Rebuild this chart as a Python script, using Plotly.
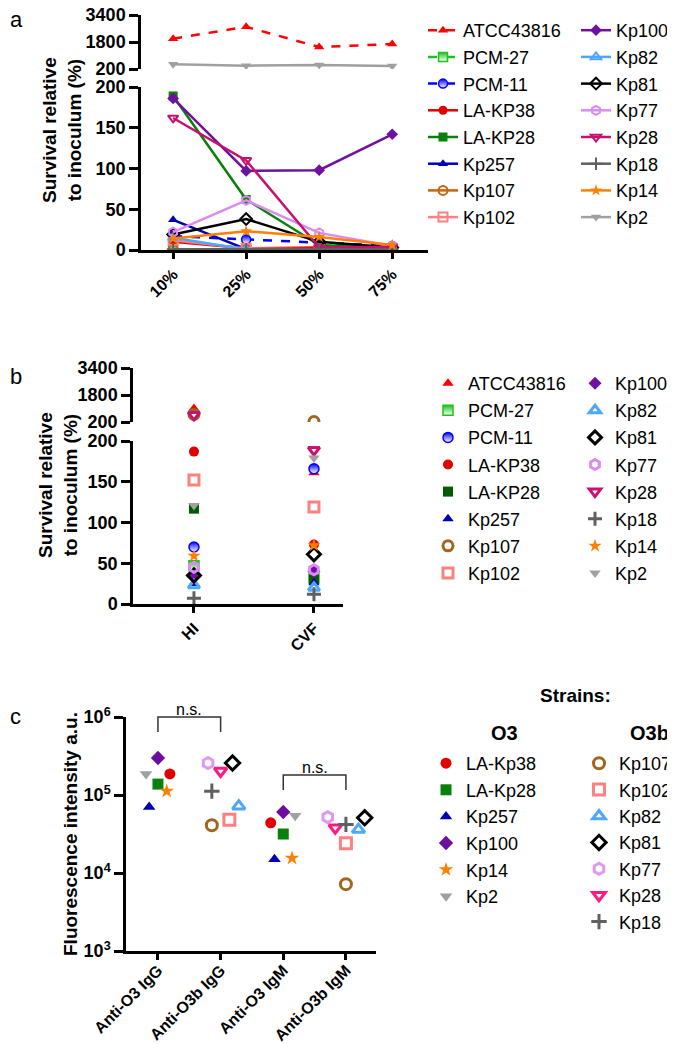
import plotly.graph_objects as go

W, H = 675, 1044

# ---------------- data ----------------
concentrations = ["10%", "25%", "50%", "75%"]
strains = ["ATCC43816", "PCM-27", "PCM-11", "LA-KP38", "LA-KP28", "Kp257", "Kp107", "Kp102",
           "Kp100", "Kp82", "Kp81", "Kp77", "Kp28", "Kp18", "Kp14", "Kp2"]
surv_10 = [2000, 1, 17, 10, 189, 37, 0.5, 12, 186, 15, 19, 22, 162, 1, 14, 480]
surv_25 = [2700, 0.5, 13, 2, 62, 1, 0.5, 2, 97, 0.5, 38, 61, 110, 1, 23, 400]
surv_50 = [1500, 0.5, 9, 3, 6, 1, 0.5, 1, 98, 0.5, 10, 21, 3, 1, 16, 440]
surv_75 = [1680, 0.5, 5, 2, 2, 1, 0.5, 1, 142, 0.5, 3, 5, 4, 1, 6, 380]

complement = ["HI", "CVF"]
surv_hi = [1000, 47, 70, 187, 117, 25, 650, 152, 34, 23, 35, 45, 620, 7, 59, 121]
surv_cvf = [161, 32, 166, 73, 30, 26, 230, 119, 40, 20, 61, 42, 189, 12, 72, 179]

antibodies = ["Anti-O3 IgG", "Anti-O3b IgG", "Anti-O3 IgM", "Anti-O3b IgM"]
o3_strains = ["LA-Kp38", "LA-Kp28", "Kp257", "Kp100", "Kp14", "Kp2"]
o3_igg = [1.86e5, 1.38e5, 7.0e4, 2.98e5, 1.12e5, 1.86e5]
o3_igm = [4.4e4, 3.16e4, 1.5e4, 6.05e4, 1.55e4, 5.4e4]
o3b_strains = ["Kp107", "Kp102", "Kp82", "Kp81", "Kp77", "Kp28", "Kp18"]
o3b_igg = [4.1e4, 4.8e4, 7.2e4, 2.57e5, 2.57e5, 2.03e5, 1.12e5]
o3b_igm = [7.2e3, 2.4e4, 3.6e4, 5.1e4, 5.2e4, 3.8e4, 4.2e4]
# horizontal scatter of points inside each antibody column (category units)
o3_igg_jit = [0.19, 0, -0.14, 0, 0.14, -0.19]
o3_igm_jit = [-0.2, 0, -0.14, 0, 0.14, 0.19]
o3b_igg_jit = [-0.14, 0.14, 0.29, 0.19, -0.2, 0, -0.14]
o3b_igm_jit = [0, 0, 0.2, 0.3, -0.29, -0.17, 0]

# ---------------- styles ----------------
sty_a = {
    "ATCC43816": dict(color="#FF0000", symbol="triangle-up", dash="dash"),
    "PCM-27": dict(color="#1EC21E", symbol="square", dash="dash", half=True),
    "PCM-11": dict(color="#0000FF", symbol="circle", dash="dash", half=True),
    "LA-KP38": dict(color="#E00000", symbol="circle"),
    "LA-KP28": dict(color="#0A800A", symbol="square"),
    "Kp257": dict(color="#0000B4", symbol="triangle-up"),
    "Kp107": dict(color="#C8640A", symbol="circle-open"),
    "Kp102": dict(color="#FF8080", symbol="square-open"),
    "Kp100": dict(color="#7010A0", symbol="diamond"),
    "Kp82": dict(color="#4DA6FF", symbol="triangle-up-open"),
    "Kp81": dict(color="#000000", symbol="diamond-open"),
    "Kp77": dict(color="#DA8CF2", symbol="hexagon-open"),
    "Kp28": dict(color="#C8106E", symbol="triangle-down-open"),
    "Kp18": dict(color="#606060", symbol="cross-thin"),
    "Kp14": dict(color="#FF8000", symbol="star"),
    "Kp2": dict(color="#A0A0A0", symbol="triangle-down"),
}
sty_b = {k: dict(v) for k, v in sty_a.items()}
sty_b["LA-KP28"]["color"] = "#005A00"
sty_b["Kp107"]["color"] = "#A0661E"
sty_b["Kp28"]["color"] = "#CC1070"

sty_c = {
    "LA-Kp38": dict(color="#E00000", symbol="circle"),
    "LA-Kp28": dict(color="#0A800A", symbol="square"),
    "Kp257": dict(color="#0000B4", symbol="triangle-up"),
    "Kp100": dict(color="#6A0DA0", symbol="diamond"),
    "Kp14": dict(color="#FF8000", symbol="star"),
    "Kp2": dict(color="#A0A0A0", symbol="triangle-down"),
    "Kp107": dict(color="#A0661E", symbol="circle-open"),
    "Kp102": dict(color="#FF8080", symbol="square-open"),
    "Kp82": dict(color="#4DA6FF", symbol="triangle-up-open"),
    "Kp81": dict(color="#000000", symbol="diamond-open"),
    "Kp77": dict(color="#DD99F5", symbol="hexagon-open"),
    "Kp28": dict(color="#FF1A80", symbol="triangle-down-open"),
    "Kp18": dict(color="#606060", symbol="cross-thin"),
}

FONT = "Liberation Sans, Arial, sans-serif"


def px_x(p):
    return p / W


def px_y(p):
    return 1 - p / H


def make_marker(st, size, lw):
    m = dict(symbol=st["symbol"], color=st["color"], size=size,
             line=dict(color=st["color"], width=0))
    if st["symbol"].endswith("-open") or st["symbol"] == "cross-thin":
        m["line"]["width"] = lw
    if st.get("half"):
        m["gradient"] = dict(type="vertical", color="white")
        m["line"]["width"] = 1.5
    return m


fig = go.Figure()

# ---------------- panel a ----------------
for i, s in enumerate(strains):
    st = sty_a[s]
    vals = [surv_10[i], surv_25[i], surv_50[i], surv_75[i]]
    leg = "legend" if i < 8 else "legend2"
    line = dict(color=st["color"], width=2.5, dash=st.get("dash", "solid"))
    fig.add_trace(go.Scatter(x=concentrations, y=vals, mode="lines+markers", name=s,
                             line=line, marker=make_marker(st, 9, 2),
                             xaxis="x", yaxis="y", legend=leg, legendgroup="a" + s))
    upper = [v if v > 200 else None for v in vals]
    if any(v is not None for v in upper):
        fig.add_trace(go.Scatter(x=concentrations, y=upper, mode="lines+markers", name=s,
                                 line=line, marker=make_marker(st, 9, 2),
                                 xaxis="x", yaxis="y2", showlegend=False, legendgroup="a" + s))

# ---------------- panel b ----------------
for i, s in enumerate(strains):
    st = sty_b[s]
    vals = [surv_hi[i], surv_cvf[i]]
    leg = "legend3" if i < 8 else "legend4"
    fig.add_trace(go.Scatter(x=complement, y=vals, mode="markers", name=s,
                             marker=make_marker(st, 10, 3),
                             xaxis="x2", yaxis="y3", legend=leg, legendgroup="b" + s))
    upper = [v if v > 200 else None for v in vals]
    if any(v is not None for v in upper):
        fig.add_trace(go.Scatter(x=complement, y=upper, mode="markers", name=s,
                                 marker=make_marker(st, 10, 3),
                                 xaxis="x2", yaxis="y4", showlegend=False, legendgroup="b" + s))

# ---------------- panel c ----------------
for i, s in enumerate(o3_strains):
    st = sty_c[s]
    fig.add_trace(go.Scatter(x=[0 + o3_igg_jit[i], 2 + o3_igm_jit[i]], y=[o3_igg[i], o3_igm[i]],
                             mode="markers", name=s, marker=make_marker(st, 11, 3),
                             xaxis="x3", yaxis="y5", legend="legend5", legendgroup="c" + s))
for i, s in enumerate(o3b_strains):
    st = sty_c[s]
    fig.add_trace(go.Scatter(x=[1 + o3b_igg_jit[i], 3 + o3b_igm_jit[i]], y=[o3b_igg[i], o3b_igm[i]],
                             mode="markers", name=s, marker=make_marker(st, 11, 3),
                             xaxis="x3", yaxis="y5", legend="legend6", legendgroup="cb" + s))

# ---------------- axes ----------------
axis_common = dict(showline=True, linecolor="black", linewidth=2.5, ticks="outside",
                   ticklen=9, tickwidth=2.5, tickcolor="black", showgrid=False, zeroline=False,
                   automargin=False, ticklabeloverflow="allow",
                   tickfont=dict(family=FONT, size=18, color="black", weight="bold"))
xfont = dict(family=FONT, size=16, color="black", weight="bold")

fig.update_layout(
    xaxis=dict(axis_common, domain=[px_x(133), px_x(420)], anchor="y", type="category",
               categoryorder="array", categoryarray=concentrations, range=[-0.44, 3.49],
               tickangle=-45, tickfont=xfont, ticklen=6),
    yaxis=dict(axis_common, domain=[px_y(242), px_y(79)], anchor="x", range=[0, 200],
               tickvals=[0, 50, 100, 150, 200]),
    yaxis2=dict(axis_common, domain=[px_y(61), px_y(7)], anchor="x", range=[200, 3400],
                tickvals=[200, 1800, 3400]),
    xaxis2=dict(axis_common, domain=[px_x(125), px_x(335)], anchor="y3", type="category",
                categoryorder="array", categoryarray=complement, range=[-0.508, 1.242],
                tickangle=-45, tickfont=xfont, ticklen=6),
    yaxis3=dict(axis_common, domain=[px_y(596), px_y(433)], anchor="x2", range=[0, 200],
                tickvals=[0, 50, 100, 150, 200]),
    yaxis4=dict(axis_common, domain=[px_y(414), px_y(360)], anchor="x2", range=[200, 3400],
                tickvals=[200, 1800, 3400]),
    xaxis3=dict(axis_common, domain=[px_x(118), px_x(368)], anchor="y5", range=[-0.51, 3.48],
                tickvals=[0, 1, 2, 3], ticktext=antibodies, tickangle=-45, tickfont=xfont,
                ticklen=6, ticklabelstandoff=-5),
    yaxis5=dict(axis_common, domain=[px_y(943), px_y(709)], anchor="x3", type="log",
                range=[3, 6], tickvals=[1e3, 1e4, 1e5, 1e6],
                ticktext=["10<sup>3</sup>", "10<sup>4</sup>", "10<sup>5</sup>", "10<sup>6</sup>"],
                tickfont=dict(family=FONT, size=18, color="black", weight="bold")),
)

# ---------------- legends ----------------
def legend_at(xp, yp, gap=0.0):
    return dict(x=px_x(xp), y=px_y(yp), xanchor="left", yanchor="top",
                font=dict(family=FONT, size=18, color="black"),
                bgcolor="rgba(0,0,0,0)", borderwidth=0, tracegroupgap=gap,
                traceorder="grouped", itemclick=False, itemdoubleclick=False)


fig.update_layout(
    legend=legend_at(415, 4, 0.3),
    legend2=legend_at(568, 4, 0.3),
    legend3=legend_at(420, 357, 0.7),
    legend4=legend_at(567, 357, 0.7),
    legend5=legend_at(418, 737, 0.2),
    legend6=legend_at(571, 737, 0.0),
)

# ---------------- annotations ----------------
ann = []
for lab, yy in [("a", 12), ("b", 368), ("c", 708)]:
    ann.append(dict(text=lab, x=0, y=px_y(yy), xref="paper", yref="paper", xanchor="left",
                    yanchor="middle", showarrow=False, font=dict(family=FONT, size=22, color="black")))
for cx, cy in [(54, 122), (50, 477)]:
    ann.append(dict(text="Survival relative<br>to inoculum (%)", x=px_x(cx), y=px_y(cy),
                    xref="paper", yref="paper", textangle=-90, showarrow=False,
                    xanchor="center", yanchor="middle",
                    font=dict(family=FONT, size=19, color="black", weight="bold")))
ann.append(dict(text="Fluorescence intensity a.u.", x=px_x(62), y=px_y(826), xref="paper",
                yref="paper", textangle=-90, showarrow=False, xanchor="center", yanchor="middle",
                font=dict(family=FONT, size=19, color="black", weight="bold")))
ann.append(dict(text="Strains:", x=px_x(567), y=px_y(687), xref="paper", yref="paper",
                xanchor="center", yanchor="middle",
                showarrow=False, font=dict(family=FONT, size=19, color="black", weight="bold")))
ann.append(dict(text="O3", x=px_x(496), y=px_y(725), xref="paper", yref="paper",
                xanchor="center", yanchor="middle",
                showarrow=False, font=dict(family=FONT, size=20, color="black", weight="bold")))
ann.append(dict(text="O3b", x=px_x(641), y=px_y(725), xref="paper", yref="paper",
                xanchor="center", yanchor="middle",
                showarrow=False, font=dict(family=FONT, size=20, color="black", weight="bold")))
for xc, yc in [(0.5, 701), (2.5, 759)]:
    ann.append(dict(text="n.s.", x=xc, y=px_y(yc), xref="x3", yref="paper", showarrow=False,
                    xanchor="center", yanchor="middle",
                    font=dict(family=FONT, size=16, color="black")))
fig.update_layout(annotations=ann)

shapes = []
for x0, x1, ytop, ybot in [(0, 1, 709, 724), (2, 3, 767, 782)]:
    shapes.append(dict(type="path", xref="x3", yref="paper",
                       path=f"M{x0},{px_y(ybot)} L{x0},{px_y(ytop)} L{x1},{px_y(ytop)} L{x1},{px_y(ybot)}",
                       line=dict(color="#333333", width=1.5)))
fig.update_layout(shapes=shapes)

fig.update_layout(width=W, height=H, margin=dict(l=0, r=0, t=0, b=0, autoexpand=False),
                  paper_bgcolor="white", plot_bgcolor="white",
                  font=dict(family=FONT, color="black"))

fig.write_html("out.html")
